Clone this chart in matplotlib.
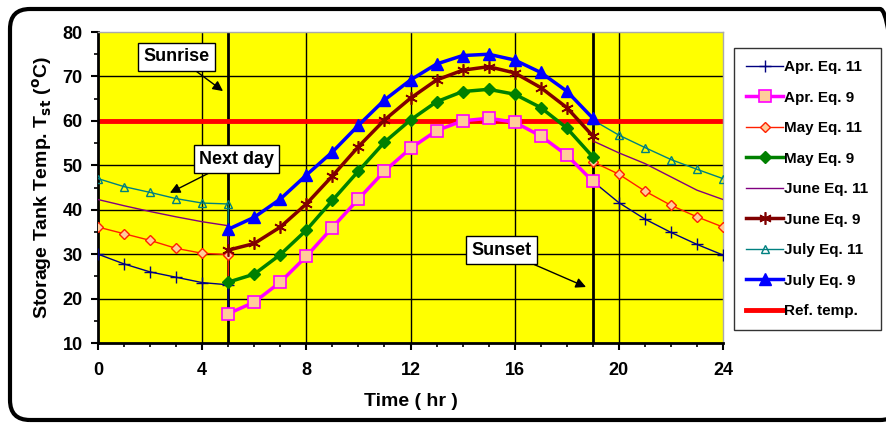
import numpy as np
import matplotlib.pyplot as plt
from matplotlib.patches import FancyBboxPatch

plt.rcParams['font.family'] = ['Liberation Sans', 'DejaVu Sans']
plt.rcParams['font.weight'] = 'bold'

# hours
hours_am = [0, 1, 2, 3, 4, 5]
hours_day = list(range(5, 20))
hours_pm = [19, 20, 21, 22, 23, 24]

# Eq. 11 (night cooling) values
apr_am = [30.0, 27.8, 26.0, 24.8, 23.6, 23.1]
apr_pm = [46.4, 41.6, 37.9, 34.9, 32.2, 29.8]
may_am = [36.1, 34.6, 33.1, 31.3, 30.2, 29.9]
may_pm = [50.8, 48.0, 44.2, 41.0, 38.4, 36.1]
jun_am = [42.3, 40.9, 39.6, 38.4, 37.3, 36.4]
jun_pm = [55.5, 52.8, 50.4, 47.4, 44.4, 42.3]
jul_am = [47.0, 45.2, 43.9, 42.5, 41.5, 41.3]
jul_pm = [60.2, 56.8, 54.0, 51.3, 49.1, 47.0]

# Eq. 9 (daytime charging) values, hours 5..19
apr_day = [16.6, 19.2, 23.7, 29.5, 36.0, 42.4, 48.7, 53.8, 57.8, 60.0, 60.6, 59.7, 56.6, 52.3, 46.4]
may_day = [23.7, 25.5, 29.9, 35.4, 42.1, 48.7, 55.2, 60.2, 64.3, 66.6, 67.1, 66.0, 63.0, 58.4, 51.9]
jun_day = [30.9, 32.4, 36.1, 41.3, 47.6, 54.2, 60.2, 65.1, 69.2, 71.4, 72.2, 70.8, 67.5, 63.0, 56.6]
jul_day = [35.6, 38.3, 42.4, 47.8, 53.0, 59.0, 64.7, 69.2, 72.8, 74.7, 75.0, 73.7, 70.9, 66.7, 60.6]

ref_temp = 60
sunrise, sunset = 5, 19

fig = plt.figure(figsize=(8.87, 4.23), dpi=100)
ax = fig.add_axes([0.1105, 0.1891, 0.7046, 0.7352])
ax.set_facecolor('#FFFF00')

# rounded outer frame
frame = FancyBboxPatch((10, 3), 890, 411, boxstyle='round,pad=0,rounding_size=20',
                       transform=None, fill=False, edgecolor='black', linewidth=3,
                       clip_on=False, zorder=0)
fig.patches.append(frame)

# grid
for xv in [4, 8, 12, 16, 20]:
    ax.axvline(xv, color='black', lw=1, zorder=1)
for yv in range(20, 80, 10):
    ax.axhline(yv, color='black', lw=1, zorder=1)
ax.axvline(sunrise, color='black', lw=2, zorder=1.5)
ax.axvline(sunset, color='black', lw=2, zorder=1.5)

ref_line, = ax.plot([0, 24], [ref_temp, ref_temp], color='#FF0000', lw=3.5, zorder=2)

styles11 = [
    ('Apr. Eq. 11', apr_am, apr_pm, apr_day, dict(color='#000080', marker='+', ms=9, mew=1, mfc='none')),
    ('May Eq. 11', may_am, may_pm, may_day, dict(color='#FF2000', marker='D', ms=5, mew=1, mfc='#FFCC99')),
    ('June Eq. 11', jun_am, jun_pm, jun_day, dict(color='#800080', marker='None')),
    ('July Eq. 11', jul_am, jul_pm, jul_day, dict(color='#008080', marker='^', ms=6, mew=1, mfc='none')),
]
styles9 = [
    ('Apr. Eq. 9', apr_day, dict(color='#FF00FF', marker='s', ms=9, mew=1.2, mfc='#FFCC99', mec='#FF00FF')),
    ('May Eq. 9', may_day, dict(color='#008000', marker='D', ms=6.5, mfc='#008000')),
    ('June Eq. 9', jun_day, dict(color='#800000', marker=(6, 2, 0), ms=9, mew=1.2)),
    ('July Eq. 9', jul_day, dict(color='#0000FF', marker='^', ms=9, mfc='#0000FF')),
]

handles = {}
for name, am, pm, day, st in styles11:
    xs = hours_am + [sunrise, np.nan] + hours_pm
    ys = am + [day[0], np.nan] + pm
    marks = list(range(len(am))) + list(range(len(am) + 2, len(xs)))
    h, = ax.plot(xs, ys, lw=1, markevery=marks, zorder=3, **st)
    handles[name] = h
for name, day, st in styles9:
    h, = ax.plot(hours_day, day, lw=2.5, zorder=4, **st)
    handles[name] = h

order = ['Apr. Eq. 11', 'Apr. Eq. 9', 'May Eq. 11', 'May Eq. 9', 'June Eq. 11',
         'June Eq. 9', 'July Eq. 11', 'July Eq. 9']
leg_h = [handles[n] for n in order] + [ref_line]
leg_l = order + ['Ref. temp.']
leg = fig.legend(leg_h, leg_l, loc='upper left', bbox_to_anchor=(0.8275, 0.887),
                 fontsize=11, numpoints=1, handlelength=2.4, handletextpad=0.1,
                 labelspacing=1.08, borderpad=0.8, frameon=True, fancybox=False,
                 edgecolor='black', borderaxespad=0)
leg.get_frame().set_linewidth(1)

ax.set_xlim(0, 24)
ax.set_ylim(10, 80)
ax.set_xticks(range(0, 25, 4))
ax.set_xticks(range(0, 25), minor=True)
ax.set_yticks(range(10, 81, 10))
ax.set_yticks(range(10, 81, 5), minor=True)
ax.tick_params(axis='both', which='major', direction='out', length=5, width=1.5,
               labelsize=13, pad=6)
ax.tick_params(axis='x', which='major', pad=9)
ax.tick_params(axis='both', which='minor', direction='out', length=3, width=1.2)
for lab in ax.get_xticklabels() + ax.get_yticklabels():
    lab.set_fontweight('bold')
ax.spines['left'].set_linewidth(2)
ax.spines['bottom'].set_linewidth(2)
for s in ['top', 'right']:
    ax.spines[s].set_color('#AAAAAA')
    ax.spines[s].set_linewidth(1)

ax.set_xlabel('Time ( hr )', fontsize=14, fontweight='bold', labelpad=10)
ax.set_ylabel('Storage Tank Temp. T$_{\\mathbf{st}}$ ($^{\\mathbf{o}}$C)', fontsize=14,
              fontweight='bold', labelpad=6)

box = dict(boxstyle='square,pad=0.3', fc='white', ec='black', lw=1)
arrow = dict(arrowstyle='-|>', color='black', lw=1, mutation_scale=15, shrinkA=0, shrinkB=0)
ax.annotate('Sunrise', xy=(4.8, 66.7), xytext=(3.03, 74.4), fontsize=13, fontweight='bold',
            ha='center', va='center', bbox=box, arrowprops=arrow, zorder=6)
ax.annotate('Next day', xy=(2.76, 43.8), xytext=(5.32, 51.4), fontsize=13, fontweight='bold',
            ha='center', va='center', bbox=box, arrowprops=arrow, zorder=6)
ax.annotate('Sunset', xy=(18.74, 22.6), xytext=(15.48, 30.9), fontsize=13, fontweight='bold',
            ha='center', va='center', bbox=box, arrowprops=arrow, zorder=6)

fig.savefig('out.png', dpi=100)
